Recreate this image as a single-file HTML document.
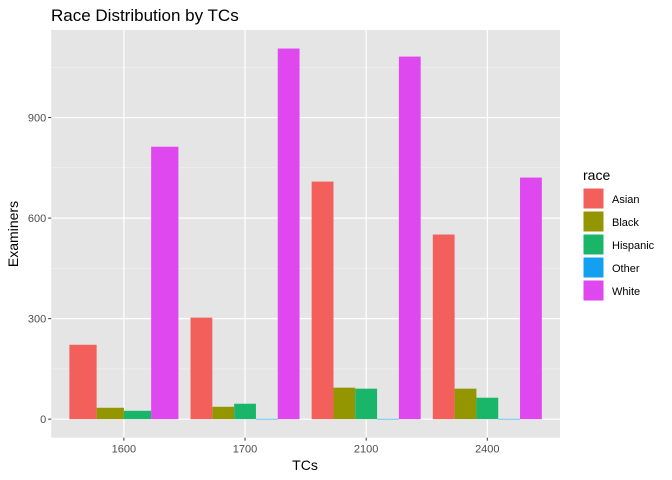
<!DOCTYPE html>
<html><head><meta charset="utf-8"><style>
body{margin:0;background:#fff;}
svg{display:block;font-family:"Liberation Sans",Arial,sans-serif;}
</style></head><body>
<svg id="chart" width="672" height="480" viewBox="0 0 672 480">
<text x="51" y="21" font-size="17" fill="#000">Race Distribution by TCs</text>
<rect x="51.2" y="30" width="508.8" height="407.7" fill="#e5e5e5"/>
<g id="grid"></g>
<g id="bars"></g>
<g id="axes"></g>
<text x="305" y="470" font-size="14" text-anchor="middle">TCs</text>
<text transform="translate(18,234) rotate(-90)" font-size="14" text-anchor="middle">Examiners</text>
<g id="legend">
<text x="583" y="180" font-size="14">race</text>
</g>
</svg>
<script>
const categories = ["1600","1700","2100","2400"];
const races = ["Asian","Black","Hispanic","Other","White"];
const colors = ["#F35F5A","#939600","#19B66A","#14A0F0","#DE48EE"];
const asian = [222,303,709,551];
const black = [34,37,94,91];
const hispanic = [25,46,91,64];
const other = [null,1,1,1];
const white = [813,1106,1082,721];
const yTicks = [0,300,600,900];
const series = [asian,black,hispanic,other,white];
const NS="http://www.w3.org/2000/svg";
const px0=51.2, px1=560, py0=30, py1=437.7;
const yMin=-55.3, yMax=1161.3;
function y(v){return py1-(v-yMin)/(yMax-yMin)*(py1-py0);}
const unit=(px1-px0)/(categories.length-1+1.2);
function x(i){return px0+(0.6+i)*unit;}
function mk(tag,attrs,parent){const e=document.createElementNS(NS,tag);for(const k in attrs)e.setAttribute(k,attrs[k]);parent.appendChild(e);return e;}
const grid=document.getElementById('grid'),bars=document.getElementById('bars'),axes=document.getElementById('axes'),legend=document.getElementById('legend');
for(let k=0;k<yTicks.length-1;k++){const v=(yTicks[k]+yTicks[k+1])/2;const l=mk('line',{x1:px0,x2:px1,y1:y(v),y2:y(v),stroke:'#f2f2f2','stroke-width':0.6},grid);
}
{const v=yTicks[yTicks.length-1]+(yTicks[1]-yTicks[0])/2;const l=mk('line',{x1:px0,x2:px1,y1:y(v),y2:y(v),stroke:'#f2f2f2','stroke-width':0.6},grid);
}
yTicks.forEach(t=>{const l=mk('line',{x1:px0,x2:px1,y1:y(t),y2:y(t),stroke:'#fff','stroke-width':1.2},grid);

const tk=mk('line',{x1:px0-3,x2:px0,y1:y(t),y2:y(t),stroke:'#333','stroke-width':1},axes);

const tx=mk('text',{x:px0-5,y:y(t)+4,'font-size':11,'text-anchor':'end',fill:'#4d4d4d'},axes);tx.textContent=t;
});
categories.forEach((c,i)=>{const l=mk('line',{x1:x(i),x2:x(i),y1:py0,y2:py1,stroke:'#fff','stroke-width':1.2},grid);

const tk=mk('line',{x1:x(i),x2:x(i),y1:py1,y2:py1+3,stroke:'#333','stroke-width':1},axes);

const tx=mk('text',{x:x(i),y:py1+15,'font-size':11,'text-anchor':'middle',fill:'#4d4d4d'},axes);tx.textContent=c;

const present=series.map((s,j)=>j).filter(j=>series[j][i]!==null);
const gw=0.9*unit, bw=gw/present.length, start=x(i)-gw/2;
present.forEach((j,k)=>{const v=series[j][i];const top=y(Math.max(v,0)),bot=y(Math.min(v,0));
const r=mk('rect',{x:start+k*bw,y:top,width:bw,height:Math.max(bot-top,0.6),fill:colors[j]},bars);
});});
races.forEach((r,j)=>{const ky=188+j*23;
const k=mk('rect',{x:583,y:ky,width:21,height:21,fill:colors[j],stroke:'#fff','stroke-width':1},legend);

const t=mk('text',{x:612,y:ky+15,'font-size':11,fill:'#000'},legend);t.textContent=r;
});
</script>
</body></html>
